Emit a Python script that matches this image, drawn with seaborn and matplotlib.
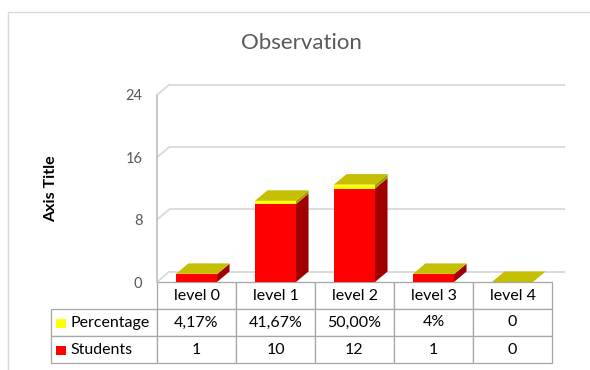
import matplotlib
matplotlib.use("Agg")
import matplotlib.pyplot as plt
from matplotlib.patches import Polygon, Rectangle
import pandas as pd
import seaborn as sns

# Observation counts per level, plus each level's share of the students
categories = ["level 0", "level 1", "level 2", "level 3", "level 4"]
students = [1, 10, 12, 1, 0]
percentage = [0.0417, 0.4167, 0.50, 0.04, 0.0]
percentage_labels = ["4,17%", "41,67%", "50,00%", "4%", "0"]
student_labels = ["1", "10", "12", "1", "0"]
series_names = ["Percentage", "Students"]
y_ticks = [0, 8, 16, 24]

sns.set_theme(style="white")
plt.rcParams["font.family"] = ["Lato", "DejaVu Sans"]

RED = "#ff0000"
YELLOW = "#ffff00"
TOP = "#c4bf00"
RED_SIDE = "#a00000"
YELLOW_SIDE = "#a39f00"
GRID = "#d9d9d9"
TEXT = "#595959"
EDGE = "#a6a6a6"

W, H = 590, 370
fig = plt.figure(figsize=(W / 100, H / 100), dpi=100)
fig.patch.set_facecolor("white")

# plot area: front floor edge and left wall in pixel units
left_px, right_px, base_px, top_px = 157, 552, 282, 95
ax = fig.add_axes([left_px / W, 1 - base_px / H,
                   (right_px - left_px) / W, (base_px - top_px) / H])
ax.patch.set_visible(False)

df = pd.DataFrame({"level": categories, "Students": students,
                   "Percentage": percentage})
df["total"] = df["Students"] + df["Percentage"]

bar_kw = dict(saturation=1, width=0.52, errorbar=None, linewidth=0,
              ax=ax, zorder=3)
sns.barplot(data=df, x="level", y="total", color=YELLOW, **bar_kw)
sns.barplot(data=df, x="level", y="Students", color=RED, **bar_kw)

ax.set_xlim(-0.5, len(categories) - 0.5)
ax.set_ylim(0, y_ticks[-1])

# depth of the 3-D projection, expressed in data units
origin = ax.transData.transform((0, 0))
dx, dy = ax.transData.inverted().transform(origin + [12.5, 10.5])

n = len(categories)
total_bars = ax.patches[:n]
student_bars = ax.patches[n:2 * n]
for tb, sb in zip(total_bars, student_bars):
    x0 = tb.get_x()
    x1 = x0 + tb.get_width()
    s = sb.get_height()
    t = tb.get_height()
    ax.add_patch(Polygon([(x1, 0), (x1 + dx, dy), (x1 + dx, s + dy), (x1, s)],
                         closed=True, facecolor=RED_SIDE, lw=0, zorder=3))
    ax.add_patch(Polygon([(x1, s), (x1 + dx, s + dy), (x1 + dx, t + dy), (x1, t)],
                         closed=True, facecolor=YELLOW_SIDE, lw=0, zorder=3))
    ax.add_patch(Polygon([(x0, t), (x1, t), (x1 + dx, t + dy), (x0 + dx, t + dy)],
                         closed=True, facecolor=TOP, lw=0, zorder=3))

# back wall gridlines and left wall connectors
xl, xr = ax.get_xlim()
for t in y_ticks:
    ax.plot([xl + dx, xr + dx], [t + dy, t + dy], color=GRID, lw=1.3,
            clip_on=False, zorder=1, solid_capstyle="butt")
    ax.plot([xl, xl + dx], [t, t + dy], color=GRID, lw=1.3,
            clip_on=False, zorder=1)
ax.plot([xl, xl], [0, y_ticks[-1]], color="#bfbfbf", lw=1.2,
        clip_on=False, zorder=1)

sns.despine(ax=ax, left=True, bottom=True)
ax.set_xticks([])
ax.set_xlabel("")
ax.set_yticks(y_ticks)
ax.set_yticklabels([str(v) for v in y_ticks])
ax.tick_params(axis="y", length=0, pad=10.5, labelsize=10.5, labelcolor=TEXT)
ax.set_ylabel("Axis Title", fontsize=11.5, fontweight="bold", color="black")
ax.yaxis.set_label_coords((58 - left_px) / (right_px - left_px), 0.5)

# data table under the plot
plot_w = right_px - left_px
plot_h = base_px - top_px
label_w = 106
table_h = 81
cell_text = [[""] + categories,
             [series_names[0]] + percentage_labels,
             [series_names[1]] + student_labels]
tbl = ax.table(cellText=cell_text, cellLoc="center",
               colWidths=[label_w] + [plot_w / n] * n,
               bbox=[-label_w / plot_w, -table_h / plot_h,
                     (label_w + plot_w) / plot_w, table_h / plot_h])
tbl.auto_set_font_size(False)
tbl.set_fontsize(11.5)
for (r, c), cell in tbl.get_celld().items():
    cell.set_edgecolor(EDGE)
    cell.set_linewidth(0.9)
    cell.get_text().set_color("black")
    if r == 0 and c == 0:
        cell.visible_edges = ""
    elif c == 0:
        cell.get_text().set_ha("left")
        cell.PAD = 19 / label_w

# legend keys inside the row label cells
row_h = (table_h / plot_h) / 3
for r, colour in [(1, YELLOW), (2, RED)]:
    yc = -(r + 0.5) * row_h
    ax.add_patch(Rectangle(((56 - left_px) / plot_w, yc - 5 / plot_h),
                           10 / plot_w, 9 / plot_h, transform=ax.transAxes,
                           facecolor=colour, lw=0, clip_on=False, zorder=5))

fig.text(301.5 / W, 1 - 49 / H, "Observation", ha="center", va="baseline",
         fontsize=16, color=TEXT)

# chart frame
fig.add_artist(Rectangle((8 / W, -0.05), 1.2, 1.05 - 12 / H,
                         transform=fig.transFigure, fill=False,
                         edgecolor=GRID, lw=1))

fig.savefig("out.png", dpi=100)
